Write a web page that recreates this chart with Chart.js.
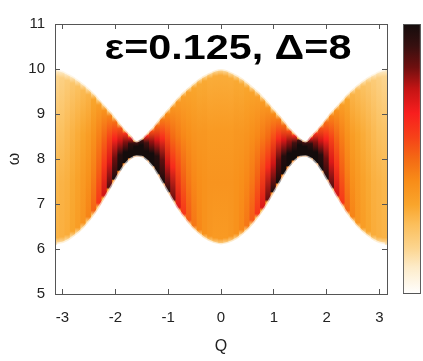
<!DOCTYPE html>
<html>
<head>
<meta charset="utf-8">
<script src="https://cdn.jsdelivr.net/npm/chart.js@4.4.1/dist/chart.umd.min.js"></script>
<style>
html,body{margin:0;padding:0;background:#fff;}
canvas{display:block;}
</style>
</head>
<body>
<canvas id="chart" width="423" height="361"></canvas>
<script>
// Q columns, 0.1 wide
const qVals = [-3.1,-3.0,-2.9,-2.8,-2.7,-2.6,-2.5,-2.4,-2.3,-2.2,-2.1,-2.0,-1.9,-1.8,-1.7,-1.6,-1.5,-1.4,-1.3,-1.2,-1.1,-1.0,-0.9,-0.8,-0.7,-0.6,-0.5,-0.4,-0.3,-0.2,-0.1,
  0.0,0.1,0.2,0.3,0.4,0.5,0.6,0.7,0.8,0.9,1.0,1.1,1.2,1.3,1.4,1.5,1.6,1.7,1.8,1.9,2.0,2.1,2.2,2.3,2.4,2.5,2.6,2.7,2.8,2.9,3.0,3.1];

// lower and upper edge of the continuum (omega)
const wLow = [6.11,6.13,6.18,6.26,6.35,6.46,6.60,6.75,6.93,7.12,7.32,7.52,7.72,7.89,8.00,8.05,8.04,7.95,7.82,7.64,7.44,7.24,7.04,6.85,6.69,6.54,6.41,6.31,6.22,6.16,6.12,
  6.10,6.12,6.16,6.22,6.31,6.41,6.54,6.69,6.85,7.04,7.24,7.44,7.64,7.82,7.95,8.04,8.05,8.00,7.89,7.72,7.52,7.32,7.12,6.93,6.75,6.60,6.46,6.35,6.26,6.18,6.13,6.11];
const wHigh = [9.99,9.96,9.90,9.84,9.76,9.67,9.57,9.46,9.33,9.20,9.07,8.93,8.78,8.64,8.52,8.40,8.46,8.58,8.70,8.85,8.99,9.12,9.26,9.39,9.51,9.61,9.71,9.80,9.87,9.93,9.98,
  10.00,9.98,9.93,9.87,9.80,9.71,9.61,9.51,9.39,9.26,9.12,8.99,8.85,8.70,8.58,8.46,8.40,8.52,8.64,8.78,8.93,9.07,9.20,9.33,9.46,9.57,9.67,9.76,9.84,9.90,9.96,9.99];

// intensity (0..1) across each column: near bottom, lower, upper, near top
const iEdgeLow = [.29,.30,.31,.33,.36,.39,.44,.51,.61,.74,.88,.98,1,1,1,1,1,1,1,1,1,.97,.85,.72,.61,.53,.47,.43,.40,.38,.37,
  .37,.37,.38,.40,.43,.47,.53,.61,.72,.85,.97,1,1,1,1,1,1,1,1,1,.98,.88,.74,.61,.51,.44,.39,.36,.33,.31,.30,.29];
const iLower = [.28,.29,.30,.32,.34,.37,.40,.45,.52,.61,.72,.84,.96,1,1,1,1,1,1,.96,.86,.74,.64,.57,.51,.46,.43,.41,.40,.39,.39,
  .39,.39,.39,.40,.41,.43,.46,.51,.57,.64,.74,.86,.96,1,1,1,1,1,1,.96,.84,.72,.61,.52,.45,.40,.37,.34,.32,.30,.29,.28];
const iUpper = [.24,.25,.27,.29,.31,.33,.36,.40,.45,.51,.58,.66,.74,.82,.94,1,1,.90,.80,.72,.64,.56,.50,.46,.43,.41,.39,.38,.38,.37,.37,
  .37,.37,.37,.38,.38,.39,.41,.43,.46,.50,.56,.64,.72,.80,.90,1,1,.94,.82,.74,.66,.58,.51,.45,.40,.36,.33,.31,.29,.27,.25,.24];
const iEdgeHigh = [.17,.19,.21,.23,.25,.27,.29,.33,.36,.40,.44,.49,.55,.62,.70,.90,.90,.64,.56,.50,.46,.42,.39,.37,.35,.34,.33,.32,.32,.31,.31,
  .31,.31,.31,.32,.32,.33,.34,.35,.37,.39,.42,.46,.50,.56,.64,.90,.90,.70,.62,.55,.49,.44,.40,.36,.33,.29,.27,.25,.23,.21,.19,.17];

const xTicks = [-3,-2,-1,0,1,2,3];
const yMin = 5, yMax = 11;
const cbTicks = [6,7,8,9,10];
const titleText = "ε=0.125, Δ=8";

// colour map, white -> orange -> red -> black
const palPos = [0,0.1,0.17,0.26,0.33,0.42,0.5,0.58,0.67,0.76,0.84,0.92,1];
const palCol = ['#ffffff','#fdebc8','#fcd58f','#fbbe5a','#f9a52c','#f88c18','#f46a14','#f64218','#f81e1e','#c41414','#6e0f0f','#361010','#140c0c'];

// colour bar placement on its hidden axis (0..1 across the plot width)
const CB_X = 1.048;
const CB_TICK = 0.0226;

function rgbOf(h){
  return [parseInt(h.slice(1,3),16), parseInt(h.slice(3,5),16), parseInt(h.slice(5,7),16)];
}
const palRgb = palCol.map(rgbOf);

function palette(t){
  t = Math.max(0, Math.min(1, t));
  let k = 1;
  while (k < palPos.length - 1 && palPos[k] < t) k++;
  const a = palRgb[k-1], b = palRgb[k];
  const f = (t - palPos[k-1]) / (palPos[k] - palPos[k-1]);
  const c = a.map((v,j) => Math.round(v + (b[j]-v)*f));
  return 'rgb(' + c.join(',') + ')';
}

// columns reach to their neighbours' edges; the white masks below trim them to the smooth edge
const barLo = wLow.map((v,i) => Math.min(v, wLow[i-1] ?? v, wLow[i+1] ?? v));
const barHi = wHigh.map((v,i) => Math.max(v, wHigh[i-1] ?? v, wHigh[i+1] ?? v));

function bandFill(ctx){
  if (ctx.type !== 'data') return 'rgba(0,0,0,0)';
  const chart = ctx.chart;
  if (!chart.chartArea) return palette(0.35);
  const i = ctx.dataIndex;
  const ys = chart.scales.y;
  const yb = ys.getPixelForValue(wLow[i]);
  const yt = ys.getPixelForValue(wHigh[i]);
  const h = Math.max(1, yb - yt);
  // strong columns end sharply, weak ones fade out over a few pixels
  const fb = Math.min(7 * (1.2 - iEdgeLow[i]) / h, 0.1);
  const ft = Math.min(7 * (1.2 - iEdgeHigh[i]) / h, 0.1);
  const g = chart.ctx.createLinearGradient(0, yb, 0, yt);
  g.addColorStop(0, palette(iEdgeLow[i]*0.45));
  g.addColorStop(fb, palette(iEdgeLow[i]));
  g.addColorStop(0.35, palette(iLower[i]));
  g.addColorStop(0.65, palette(iUpper[i]));
  g.addColorStop(1-ft, palette(iEdgeHigh[i]));
  g.addColorStop(1, palette(iEdgeHigh[i]*0.45));
  return g;
}

function cbFill(ctx){
  const chart = ctx.chart;
  if (!chart.chartArea) return palette(0.5);
  const ys = chart.scales.y;
  const g = chart.ctx.createLinearGradient(0, ys.getPixelForValue(yMin), 0, ys.getPixelForValue(yMax));
  palPos.forEach((p,k) => g.addColorStop(p, palCol[k]));
  return g;
}

// bold label inside the top of the plot
const headline = {
  id: 'headline',
  afterDatasetsDraw(chart){
    const {ctx, chartArea} = chart;
    ctx.save();
    ctx.font = 'bold 35px "Liberation Sans", Arial, sans-serif';
    ctx.fillStyle = '#000';
    ctx.textAlign = 'center';
    ctx.textBaseline = 'alphabetic';
    ctx.translate(chartArea.left + 173, chartArea.top + 35);
    ctx.scale(1.18, 1);
    ctx.fillText(titleText, 0, 0);
    ctx.restore();
  }
};

Chart.defaults.font.family = '"Liberation Sans", Arial, sans-serif';
Chart.defaults.color = '#222';

const axisLine = '#555';
const inTicks = {drawOnChartArea:false, drawTicks:true, tickLength:-5, color:axisLine, offset:false, z:1};
const edgeMask = {
  type: 'line', pointRadius: 0, borderWidth: 3, borderColor: 'rgba(255,255,255,0.6)',
  backgroundColor: '#fff', cubicInterpolationMode: 'monotone', order: 2
};

new Chart(document.getElementById('chart'), {
  type: 'bar',
  data: {
    datasets: [
      {
        label: 'continuum',
        data: qVals.map((q,i) => ({x:q, y:[barLo[i], barHi[i]]})),
        backgroundColor: bandFill,
        borderWidth: 0,
        grouped: false,
        barPercentage: 1,
        categoryPercentage: 1,
        inflateAmount: 0.6,
        order: 3
      },
      Object.assign({label:'upper edge', data: qVals.map((q,i) => ({x:q, y:wHigh[i]})), fill:'end'}, edgeMask),
      Object.assign({label:'lower edge', data: qVals.map((q,i) => ({x:q, y:wLow[i]})), fill:'start'}, edgeMask),
      {
        label: 'colorbar',
        xAxisID: 'xcb',
        data: [{x:CB_X, y:[yMin, yMax]}],
        backgroundColor: cbFill,
        borderColor: axisLine,
        borderWidth: 1,
        borderSkipped: false,
        barThickness: 18,
        inflateAmount: 0,
        clip: false,
        order: 1
      },
      {
        type: 'scatter',
        label: 'colorbar ticks',
        xAxisID: 'xcb',
        data: cbTicks.flatMap(v => [{x:CB_X-CB_TICK, y:v}, {x:CB_X+CB_TICK, y:v}]),
        pointStyle: 'line',
        pointRadius: 2,
        borderColor: axisLine,
        borderWidth: 1,
        clip: false,
        order: 0
      }
    ]
  },
  options: {
    responsive: false,
    animation: false,
    layout: {padding: {top:12, right:36, left:0, bottom:0}},
    plugins: {legend:{display:false}, tooltip:{enabled:false}},
    scales: {
      x: {
        type: 'linear', position: 'bottom', min: -Math.PI, max: Math.PI, offset: false,
        afterBuildTicks: s => { s.ticks = xTicks.map(v => ({value:v})); },
        afterFit: s => { s.height = 67; },
        grid: inTicks,
        border: {color:axisLine, z:1},
        ticks: {padding:20, font:{size:15}, color:'#222', maxRotation:0},
        title: {display:true, text:'Q', font:{size:16}, color:'#222', padding:{top:0, bottom:5}}
      },
      x2: {
        type: 'linear', position: 'top', min: -Math.PI, max: Math.PI, offset: false, display: true,
        afterBuildTicks: s => { s.ticks = xTicks.map(v => ({value:v})); },
        afterFit: s => { s.height = 0; },
        grid: inTicks,
        border: {color:axisLine, z:1},
        ticks: {display:false}
      },
      xcb: {type:'linear', display:false, min:0, max:1, offset:false},
      y: {
        type: 'linear', position: 'left', min: yMin, max: yMax,
        afterFit: s => { s.width = 55; },
        grid: inTicks,
        border: {color:axisLine, z:1},
        ticks: {stepSize:1, padding:15, font:{size:15}, color:'#222'},
        title: {display:true, text:'ω', font:{size:16}, color:'#222', padding:{top:5, bottom:0}}
      },
      y2: {
        type: 'linear', position: 'right', min: yMin, max: yMax, display: true,
        afterFit: s => { s.width = 0; },
        grid: inTicks,
        border: {color:axisLine, z:1},
        ticks: {stepSize:1, display:false}
      }
    }
  },
  plugins: [headline]
});
</script>
</body>
</html>
